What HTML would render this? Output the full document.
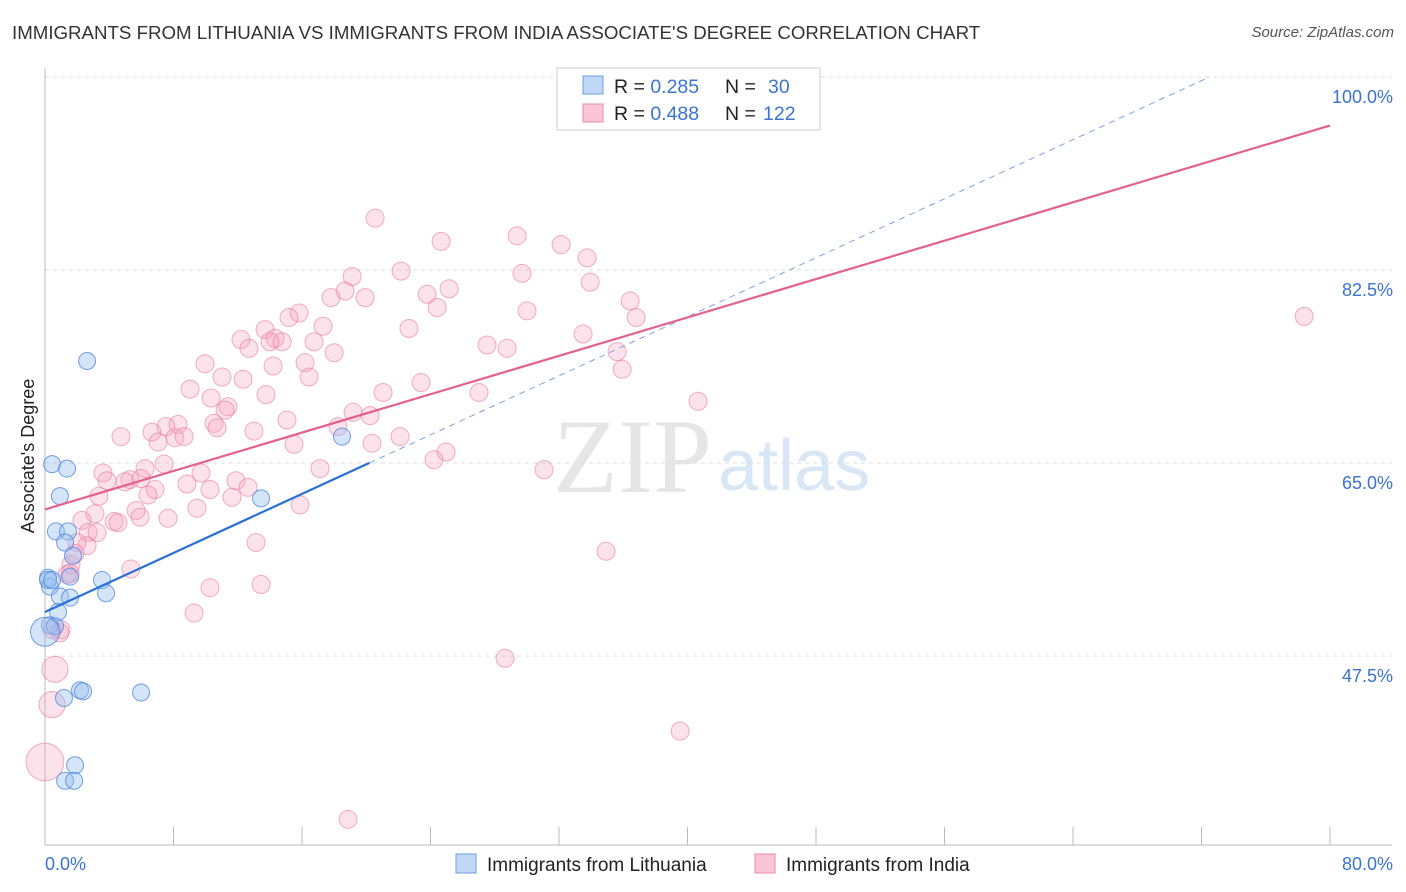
<!DOCTYPE html>
<html><head><meta charset="utf-8"><style>
body{margin:0;background:#fff;font-family:"Liberation Sans",sans-serif;}
#wrap{position:relative;width:1406px;height:892px;overflow:hidden;}
.t{position:absolute;white-space:nowrap;}
</style></head><body>
<div id="wrap">
<div class="t" style="left:12px;top:22px;font-size:18.7px;color:#333;">IMMIGRANTS FROM LITHUANIA VS IMMIGRANTS FROM INDIA ASSOCIATE'S DEGREE CORRELATION CHART</div>
<div class="t" style="right:12px;top:24px;font-size:15px;color:#555;font-style:italic;">Source: ZipAtlas.com</div>
<svg id="svg" width="1406" height="892" style="position:absolute;left:0;top:0"></svg>
</div>
<script>
const xTicks=[0,80];
const yTicks=[47.5,65.0,82.5,100.0];
const blueX=[2.62,0.44,1.37,0.93,13.45,18.49,0.68,1.43,1.25,1.74,0.19,1.56,3.55,0.31,0.93,1.56,3.80,0.81,0.31,0.62,0,1.18,2.18,2.37,5.98,1.87,1.25,1.81,0.19,0.44];
const blueY=[74.25,64.9,64.5,62.0,61.8,67.4,58.8,58.8,57.8,56.6,54.6,54.7,54.4,53.8,52.9,52.8,53.2,51.5,50.3,50.2,49.7,43.7,44.4,44.3,44.2,37.6,36.2,36.2,54.4,54.4];
const blueW=[1,1,1,1,1,1,1,1,1,1,1,1,1,1,1,1,1,1,1,1,1.7,1,1,1,1,1,1,1,1,1];
const pinkX=[20.55,24.66,29.39,32.13,33.75,22.17,29.70,19.12,33.94,25.16,23.79,18.68,19.93,17.81,24.41,30.01,36.43,15.82,15.19,17.31,22.66,36.80,13.70,78.39,33.50,12.20,14.32,14.01,14.76,16.75,27.52,28.77,12.70,18.00,35.62,16.19,14.20,9.96,35.93,16.44,12.33,11.02,9.03,21.05,23.41,27.02,40.66,13.76,10.34,11.39,11.21,19.18,20.24,15.07,10.52,10.71,18.24,8.28,7.53,8.09,8.66,6.66,4.73,13.01,22.10,20.36,15.50,7.04,24.97,24.22,7.41,6.23,17.12,31.07,3.61,9.71,11.89,5.29,3.86,4.98,5.98,8.84,6.85,6.41,3.36,11.64,12.64,10.27,15.88,9.46,5.67,3.11,5.92,7.66,2.30,4.30,4.55,2.68,3.24,13.14,2.62,1.99,5.35,1.62,1.87,34.93,10.27,13.45,9.28,1.56,1.37,1.00,28.64,39.54,18.87,0.62,0.44,0,0.44,0.93];
const pinkY=[87.2,85.1,85.6,84.8,83.6,82.4,82.2,81.9,81.4,80.8,80.3,80.6,80.0,80.0,79.1,78.8,79.7,78.6,78.2,77.4,77.2,78.2,77.1,78.3,76.7,76.2,76.3,76.0,76.0,76.0,75.7,75.4,75.4,75.0,75.1,74.1,73.8,74.0,73.5,72.8,72.6,72.8,71.7,71.4,72.3,71.4,70.6,71.2,70.9,70.1,69.8,69.6,69.3,68.9,68.6,68.2,68.3,68.5,68.3,67.3,67.4,67.8,67.4,67.9,67.4,66.8,66.7,66.9,66.0,65.3,64.9,64.5,64.5,64.4,64.1,64.1,63.4,63.5,63.4,63.3,63.6,63.1,62.6,62.1,62.0,61.9,62.8,62.6,61.2,60.9,60.7,60.4,60.1,60.0,59.8,59.7,59.6,58.7,58.7,57.8,57.5,57.8,55.4,55.8,56.8,57.0,53.7,54.0,51.4,55.0,54.9,49.9,47.3,40.7,32.7,46.3,43.1,37.9,49.9,49.6];
const pinkW=pinkX.map((v,i)=>i===pinkX.length-5?1.45:i===pinkX.length-4?1.45:i===pinkX.length-3?2.1:1);
const blueTrend=[51.5,0.669];
const pinkTrend=[60.8,0.435];

const NS='http://www.w3.org/2000/svg';
const svg=document.getElementById('svg');
const X0=45,X1=1330,YT=77,YB=845;
const sx=v=>X0+v/80*(X1-X0);
const sy=v=>YT+(100-v)*11.03;
function mk(tag,at,parent){const e=document.createElementNS(NS,tag);for(const k in at)e.setAttribute(k,at[k]);(parent||svg).appendChild(e);return e;}

const wm=mk('text',{x:553,y:492,'font-size':106,'font-family':'Liberation Serif,serif',fill:'#e6e6e6'});wm.textContent='ZIP';


const wm2=mk('text',{x:718,y:490,'font-size':72,'font-family':'Liberation Sans,sans-serif',fill:'#d8e6f5'});wm2.textContent='atlas';



yTicks.forEach(v=>{const g=mk('line',{x1:X0,x2:1392,y1:sy(v),y2:sy(v),stroke:'#ddd','stroke-dasharray':'4,4'});


const t=mk('text',{x:1393,y:sy(v)+26,'text-anchor':'end','font-size':18,fill:'#3b74d0'});t.textContent=v.toFixed(1)+'%';

});
const ya=mk('line',{x1:X0,x2:X0,y1:68,y2:YB,stroke:'#bbb'});


const xa=mk('line',{x1:X0,x2:1392,y1:YB,y2:YB,stroke:'#bbb'});


for(let i=0;i<=10;i++){const tk=mk('line',{x1:sx(i*8),x2:sx(i*8),y1:827,y2:YB,stroke:'#bbb'});

}
xTicks.forEach((v,i)=>{const t=mk('text',{x:i?1393:45,y:870,'text-anchor':i?'end':'start','font-size':18,fill:'#3b74d0'});t.textContent=v.toFixed(1)+'%';

});
const yt=mk('text',{x:0,y:0,transform:'translate(34,456) rotate(-90)','text-anchor':'middle','font-size':18,fill:'#222'});yt.textContent="Associate's Degree";



pinkX.forEach((v,i)=>{const c=mk('circle',{cx:sx(v),cy:sy(pinkY[i]),r:9*pinkW[i],fill:'rgba(246,160,188,0.3)',stroke:'rgba(232,120,158,0.6)','stroke-width':1});

});
blueX.forEach((v,i)=>{const c=mk('circle',{cx:sx(v),cy:sy(blueY[i]),r:8.5*blueW[i],fill:'rgba(150,190,240,0.4)',stroke:'rgba(70,130,220,0.75)','stroke-width':1});

});

const bx1=20.2;
const bl=mk('line',{x1:sx(0),y1:sy(blueTrend[0]),x2:sx(bx1),y2:sy(blueTrend[0]+blueTrend[1]*bx1),stroke:'#2a6fd6','stroke-width':2.2});


const bx2=(100-blueTrend[0])/blueTrend[1];
const bd=mk('line',{x1:sx(bx1),y1:sy(blueTrend[0]+blueTrend[1]*bx1),x2:sx(bx2),y2:sy(100),stroke:'#7aa3dd','stroke-width':1,'stroke-dasharray':'6,5'});


const pl=mk('line',{x1:sx(0),y1:sy(pinkTrend[0]),x2:sx(80),y2:sy(pinkTrend[0]+pinkTrend[1]*80),stroke:'#e4608e','stroke-width':2.2});



const lg=mk('g',{});


mk('rect',{x:557,y:68,width:263,height:62,fill:'#fff',stroke:'#ccc'},lg);
mk('rect',{x:583,y:76,width:20,height:18,fill:'rgba(150,190,240,0.6)',stroke:'#6a9be0'},lg);
mk('rect',{x:583,y:104,width:20,height:18,fill:'rgba(246,160,188,0.6)',stroke:'#e88aa8'},lg);
[[93,'0.285','30'],[120,'0.488','122']].forEach(r=>{
 const a=mk('text',{x:614,y:r[0],'font-size':19.5,fill:'#222'},lg);a.innerHTML='R = <tspan fill="#3b74d0">'+r[1]+'</tspan>';
 const b=mk('text',{x:725,y:r[0],'font-size':19.5,fill:'#222'},lg);b.innerHTML='N = <tspan fill="#3b74d0" x="'+(r[2].length>2?763:768)+'">'+r[2]+'</tspan>';
});
[[456,'rgba(150,190,240,0.6)','#6a9be0','Immigrants from Lithuania','legend-lithuania'],[755,'rgba(246,160,188,0.6)','#e88aa8','Immigrants from India','legend-india']].forEach(l=>{
 const g=mk('g',{});
 
 
 mk('rect',{x:l[0],y:854,width:20,height:19,fill:l[1],stroke:l[2]},g);
 const t=mk('text',{x:l[0]+31,y:871,'font-size':19,fill:'#222'},g);t.textContent=l[3];
});
</script>
</body></html>
